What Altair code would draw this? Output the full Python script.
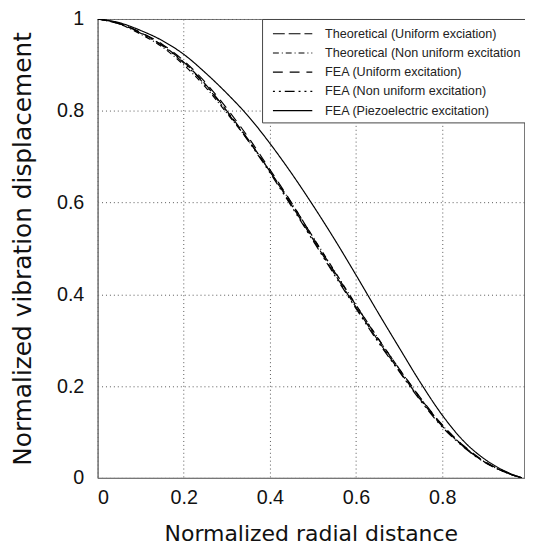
import altair as alt
import pandas as pd

x_vals = [0.0, 0.05, 0.10, 0.15, 0.20, 0.25, 0.30, 0.35, 0.40, 0.45, 0.50,
          0.55, 0.60, 0.65, 0.70, 0.75, 0.80, 0.85, 0.90, 0.95, 0.985]

theo_uniform = [1.0, 0.990, 0.970, 0.943, 0.906, 0.858, 0.800, 0.737, 0.668, 0.595, 0.520,
                0.445, 0.372, 0.301, 0.234, 0.170, 0.113, 0.068, 0.034, 0.011, 0.0]
theo_nonuniform = [1.0, 0.989, 0.967, 0.939, 0.900, 0.852, 0.795, 0.735, 0.668, 0.599, 0.525,
                   0.451, 0.377, 0.306, 0.238, 0.173, 0.115, 0.069, 0.034, 0.011, 0.0]
fea_uniform = [1.0, 0.990, 0.971, 0.945, 0.909, 0.862, 0.805, 0.742, 0.672, 0.600, 0.524,
               0.449, 0.376, 0.305, 0.238, 0.174, 0.116, 0.070, 0.035, 0.012, 0.0]
fea_nonuniform = [1.0, 0.990, 0.969, 0.942, 0.904, 0.856, 0.798, 0.734, 0.665, 0.592, 0.517,
                  0.442, 0.369, 0.298, 0.232, 0.168, 0.111, 0.067, 0.033, 0.011, 0.0]
fea_piezo = [1.0, 0.992, 0.975, 0.953, 0.923, 0.883, 0.838, 0.788, 0.729, 0.664, 0.594,
             0.520, 0.442, 0.362, 0.284, 0.207, 0.137, 0.080, 0.040, 0.013, 0.0]

series_names = [
    "Theoretical (Uniform exciation)",
    "Theoretical (Non uniform excitation",
    "FEA (Uniform excitation)",
    "FEA (Non uniform excitation)",
    "FEA (Piezoelectric excitation)",
]
series_values = [theo_uniform, theo_nonuniform, fea_uniform, fea_nonuniform, fea_piezo]
dashes = [[12, 4], [6, 3, 1, 3], [10, 7], [2, 4, 2, 4, 10, 4], [1, 0]]
widths = [1.2, 1.2, 2.0, 2.2, 1.5]

x_ticks = [0, 0.2, 0.4, 0.6, 0.8]
y_ticks = [0, 0.2, 0.4, 0.6, 0.8, 1.0]

rows = []
for name, vals in zip(series_names, series_values):
    for xv, yv in zip(x_vals, vals):
        rows.append({"series": name, "r": xv, "w": yv})
df = pd.DataFrame(rows)

legend = alt.Legend(
    title=None,
    orient="none",
    legendX=167,
    legendY=0,
    symbolType="M-0.44,0H4",
    symbolSize=324,
    symbolStrokeColor="black",
    labelFont="Liberation Sans",
    labelFontSize=12.8,
    labelColor="#222",
    labelOffset=39,
    labelLimit=400,
    strokeColor="#444",
    fillColor="white",
    padding=5,
    rowPadding=2.5,
)

chart = (
    alt.Chart(df)
    .mark_line(interpolate="monotone", color="black", clip=True)
    .encode(
        x=alt.X(
            "r:Q",
            scale=alt.Scale(domain=[0, 0.99], nice=False, zero=False),
            axis=alt.Axis(
                values=x_ticks, format=".1~f", title="Normalized radial distance",
                titleY=64, titleBaseline="alphabetic", titleFont="DejaVu Sans",
                titleFontSize=22.3,
            ),
        ),
        y=alt.Y(
            "w:Q",
            scale=alt.Scale(domain=[0, 1], nice=False),
            axis=alt.Axis(
                values=y_ticks, format=".1~f", title="Normalized vibration displacement",
                titleX=-76, titleBaseline="middle", titleFont="DejaVu Sans",
                titleFontSize=25.2,
            ),
        ),
        strokeDash=alt.StrokeDash(
            "series:N",
            scale=alt.Scale(domain=series_names, range=dashes),
            legend=legend,
        ),
        strokeWidth=alt.StrokeWidth(
            "series:N",
            scale=alt.Scale(domain=series_names, range=widths),
            legend=legend,
        ),
        order=alt.Order("r:Q"),
    )
    .properties(
        width=433,
        height=466,
        autosize="none",
        padding={"left": 91, "top": 7, "right": 1, "bottom": 66},
    )
    .configure_view(stroke="#777", strokeWidth=1)
    .configure_axis(
        grid=True,
        gridColor="#555",
        gridDash=[1, 3],
        gridWidth=1,
        domainColor="#777",
        domainWidth=1.2,
        ticks=False,
        labelFont="Liberation Sans",
        labelFontSize=20,
        labelColor="#111",
        titleFontWeight="normal",
        titleColor="#111",
    )
    .configure_axisX(labelPadding=10)
    .configure_axisY(labelPadding=14)
)

chart.save("out.html", embed_options={"renderer": "svg", "actions": False})
